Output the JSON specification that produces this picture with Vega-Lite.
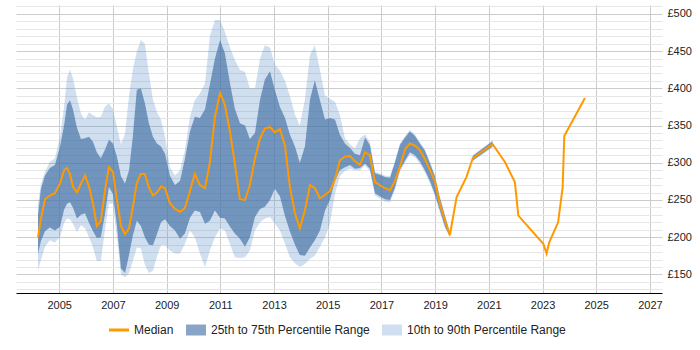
{
  "$schema": "https://vega.github.io/schema/vega-lite/v6.json",
  "width": 646,
  "height": 288,
  "autosize": {"type": "none"},
  "padding": {"left": 16, "top": 5, "right": 38, "bottom": 57},
  "background": "white",
  "config": {
    "view": {"stroke": null},
    "font": "Liberation Sans"
  },
  "datasets": {
    "bands": [
      {"year": 2004.21, "p10": 155, "p25": 178, "p75": 230, "p90": 245, "seg": 1},
      {"year": 2004.32, "p10": 170, "p25": 195, "p75": 265, "p90": 272, "seg": 1},
      {"year": 2004.47, "p10": 187, "p25": 208, "p75": 283, "p90": 288, "seg": 1},
      {"year": 2004.65, "p10": 196, "p25": 213, "p75": 293, "p90": 301, "seg": 1},
      {"year": 2004.84, "p10": 193, "p25": 209, "p75": 297, "p90": 306, "seg": 1},
      {"year": 2005.03, "p10": 200, "p25": 214, "p75": 322, "p90": 335, "seg": 1},
      {"year": 2005.18, "p10": 219, "p25": 237, "p75": 350, "p90": 375, "seg": 1},
      {"year": 2005.29, "p10": 225, "p25": 245, "p75": 378, "p90": 415, "seg": 1},
      {"year": 2005.40, "p10": 224, "p25": 247, "p75": 384, "p90": 425, "seg": 1},
      {"year": 2005.51, "p10": 218, "p25": 240, "p75": 372, "p90": 414, "seg": 1},
      {"year": 2005.66, "p10": 207, "p25": 225, "p75": 347, "p90": 388, "seg": 1},
      {"year": 2005.81, "p10": 216, "p25": 230, "p75": 332, "p90": 366, "seg": 1},
      {"year": 2005.96, "p10": 212, "p25": 232, "p75": 333, "p90": 358, "seg": 1},
      {"year": 2006.11, "p10": 200, "p25": 219, "p75": 335, "p90": 368, "seg": 1},
      {"year": 2006.26, "p10": 186, "p25": 208, "p75": 328, "p90": 364, "seg": 1},
      {"year": 2006.40, "p10": 168, "p25": 199, "p75": 314, "p90": 361, "seg": 1},
      {"year": 2006.55, "p10": 168, "p25": 200, "p75": 306, "p90": 362, "seg": 1},
      {"year": 2006.70, "p10": 209, "p25": 230, "p75": 317, "p90": 375, "seg": 1},
      {"year": 2006.85, "p10": 245, "p25": 267, "p75": 331, "p90": 380, "seg": 1},
      {"year": 2007.00, "p10": 245, "p25": 258, "p75": 326, "p90": 372, "seg": 1},
      {"year": 2007.15, "p10": 200, "p25": 215, "p75": 308, "p90": 348, "seg": 1},
      {"year": 2007.30, "p10": 150, "p25": 158, "p75": 282, "p90": 325, "seg": 1},
      {"year": 2007.45, "p10": 146, "p25": 152, "p75": 272, "p90": 339, "seg": 1},
      {"year": 2007.60, "p10": 152, "p25": 176, "p75": 290, "p90": 390, "seg": 1},
      {"year": 2007.74, "p10": 168, "p25": 202, "p75": 335, "p90": 425, "seg": 1},
      {"year": 2007.89, "p10": 186, "p25": 222, "p75": 398, "p90": 450, "seg": 1},
      {"year": 2008.04, "p10": 185, "p25": 215, "p75": 400, "p90": 465, "seg": 1},
      {"year": 2008.19, "p10": 163, "p25": 200, "p75": 380, "p90": 460, "seg": 1},
      {"year": 2008.34, "p10": 152, "p25": 190, "p75": 353, "p90": 420, "seg": 1},
      {"year": 2008.49, "p10": 155, "p25": 189, "p75": 335, "p90": 385, "seg": 1},
      {"year": 2008.64, "p10": 174, "p25": 204, "p75": 326, "p90": 368, "seg": 1},
      {"year": 2008.79, "p10": 189, "p25": 220, "p75": 322, "p90": 358, "seg": 1},
      {"year": 2008.94, "p10": 189, "p25": 224, "p75": 312, "p90": 335, "seg": 1},
      {"year": 2009.12, "p10": 182, "p25": 215, "p75": 283, "p90": 294, "seg": 1},
      {"year": 2009.31, "p10": 178, "p25": 209, "p75": 270, "p90": 283, "seg": 1},
      {"year": 2009.50, "p10": 178, "p25": 198, "p75": 276, "p90": 290, "seg": 1},
      {"year": 2009.68, "p10": 191, "p25": 205, "p75": 305, "p90": 317, "seg": 1},
      {"year": 2009.87, "p10": 209, "p25": 226, "p75": 342, "p90": 362, "seg": 1},
      {"year": 2010.05, "p10": 200, "p25": 236, "p75": 362, "p90": 384, "seg": 1},
      {"year": 2010.24, "p10": 178, "p25": 234, "p75": 360, "p90": 393, "seg": 1},
      {"year": 2010.43, "p10": 160, "p25": 218, "p75": 372, "p90": 407, "seg": 1},
      {"year": 2010.61, "p10": 182, "p25": 222, "p75": 405, "p90": 470, "seg": 1},
      {"year": 2010.80, "p10": 200, "p25": 236, "p75": 440, "p90": 492, "seg": 1},
      {"year": 2010.99, "p10": 212, "p25": 226, "p75": 465, "p90": 492, "seg": 1},
      {"year": 2011.17, "p10": 209, "p25": 225, "p75": 447, "p90": 476, "seg": 1},
      {"year": 2011.36, "p10": 191, "p25": 214, "p75": 407, "p90": 455, "seg": 1},
      {"year": 2011.54, "p10": 173, "p25": 205, "p75": 373, "p90": 438, "seg": 1},
      {"year": 2011.73, "p10": 172, "p25": 198, "p75": 353, "p90": 425, "seg": 1},
      {"year": 2011.92, "p10": 173, "p25": 187, "p75": 350, "p90": 422, "seg": 1},
      {"year": 2012.10, "p10": 182, "p25": 200, "p75": 332, "p90": 400, "seg": 1},
      {"year": 2012.29, "p10": 209, "p25": 227, "p75": 340, "p90": 400, "seg": 1},
      {"year": 2012.48, "p10": 220, "p25": 238, "p75": 385, "p90": 440, "seg": 1},
      {"year": 2012.66, "p10": 225, "p25": 241, "p75": 412, "p90": 458, "seg": 1},
      {"year": 2012.85, "p10": 227, "p25": 250, "p75": 423, "p90": 455, "seg": 1},
      {"year": 2013.03, "p10": 218, "p25": 265, "p75": 398, "p90": 432, "seg": 1},
      {"year": 2013.22, "p10": 209, "p25": 255, "p75": 375, "p90": 424, "seg": 1},
      {"year": 2013.41, "p10": 191, "p25": 228, "p75": 360, "p90": 410, "seg": 1},
      {"year": 2013.59, "p10": 173, "p25": 208, "p75": 338, "p90": 390, "seg": 1},
      {"year": 2013.78, "p10": 165, "p25": 190, "p75": 322, "p90": 365, "seg": 1},
      {"year": 2013.96, "p10": 160, "p25": 176, "p75": 300, "p90": 350, "seg": 1},
      {"year": 2014.15, "p10": 164, "p25": 175, "p75": 322, "p90": 385, "seg": 1},
      {"year": 2014.34, "p10": 171, "p25": 186, "p75": 385, "p90": 445, "seg": 1},
      {"year": 2014.52, "p10": 175, "p25": 196, "p75": 411, "p90": 458, "seg": 1},
      {"year": 2014.71, "p10": 187, "p25": 209, "p75": 384, "p90": 425, "seg": 1},
      {"year": 2014.90, "p10": 200, "p25": 236, "p75": 358, "p90": 390, "seg": 1},
      {"year": 2015.08, "p10": 218, "p25": 250, "p75": 360, "p90": 386, "seg": 1},
      {"year": 2015.27, "p10": 258, "p25": 276, "p75": 358, "p90": 382, "seg": 1},
      {"year": 2015.45, "p10": 282, "p25": 290, "p75": 338, "p90": 365, "seg": 1},
      {"year": 2015.64, "p10": 289, "p25": 294, "p75": 326, "p90": 333, "seg": 1},
      {"year": 2015.83, "p10": 292, "p25": 297, "p75": 320, "p90": 325, "seg": 1},
      {"year": 2016.01, "p10": 290, "p25": 292, "p75": 312, "p90": 319, "seg": 1},
      {"year": 2016.20, "p10": 290, "p25": 293, "p75": 310, "p90": 333, "seg": 1},
      {"year": 2016.39, "p10": 296, "p25": 299, "p75": 334, "p90": 338, "seg": 1},
      {"year": 2016.57, "p10": 289, "p25": 292, "p75": 324, "p90": 328, "seg": 1},
      {"year": 2016.76, "p10": 256, "p25": 259, "p75": 286, "p90": 288, "seg": 1},
      {"year": 2016.94, "p10": 252, "p25": 255, "p75": 284, "p90": 286, "seg": 1},
      {"year": 2017.13, "p10": 248, "p25": 251, "p75": 281, "p90": 283, "seg": 1},
      {"year": 2017.32, "p10": 247, "p25": 250, "p75": 280, "p90": 282, "seg": 1},
      {"year": 2017.50, "p10": 263, "p25": 266, "p75": 300, "p90": 302, "seg": 1},
      {"year": 2017.69, "p10": 288, "p25": 291, "p75": 324, "p90": 326, "seg": 1},
      {"year": 2017.88, "p10": 300, "p25": 303, "p75": 334, "p90": 336, "seg": 1},
      {"year": 2018.06, "p10": 311, "p25": 314, "p75": 342, "p90": 344, "seg": 1},
      {"year": 2018.25, "p10": 307, "p25": 310, "p75": 336, "p90": 338, "seg": 1},
      {"year": 2018.43, "p10": 299, "p25": 302, "p75": 326, "p90": 328, "seg": 1},
      {"year": 2018.62, "p10": 287, "p25": 290, "p75": 316, "p90": 318, "seg": 1},
      {"year": 2018.81, "p10": 272, "p25": 275, "p75": 299, "p90": 301, "seg": 1},
      {"year": 2018.99, "p10": 255, "p25": 258, "p75": 282, "p90": 284, "seg": 1},
      {"year": 2019.18, "p10": 233, "p25": 236, "p75": 252, "p90": 255, "seg": 1},
      {"year": 2019.37, "p10": 212, "p25": 214, "p75": 228, "p90": 230, "seg": 1},
      {"year": 2019.55, "p10": 200, "p25": 201, "p75": 206, "p90": 207, "seg": 1},
      {"year": 2020.40, "p10": 302, "p25": 303, "p75": 309, "p90": 310, "seg": 2},
      {"year": 2021.14, "p10": 321, "p25": 322, "p75": 329, "p90": 330, "seg": 2}
    ],
    "median": [
      {"year": 2004.21, "median": 200},
      {"year": 2004.32, "median": 225},
      {"year": 2004.47, "median": 251},
      {"year": 2004.65, "median": 256},
      {"year": 2004.84, "median": 259},
      {"year": 2005.03, "median": 272},
      {"year": 2005.18, "median": 290},
      {"year": 2005.29, "median": 293},
      {"year": 2005.40, "median": 285},
      {"year": 2005.51, "median": 268},
      {"year": 2005.66, "median": 260},
      {"year": 2005.81, "median": 272},
      {"year": 2005.96, "median": 283},
      {"year": 2006.11, "median": 268},
      {"year": 2006.26, "median": 245},
      {"year": 2006.40, "median": 215},
      {"year": 2006.55, "median": 222},
      {"year": 2006.70, "median": 262},
      {"year": 2006.85, "median": 294},
      {"year": 2007.00, "median": 288},
      {"year": 2007.15, "median": 250},
      {"year": 2007.30, "median": 215},
      {"year": 2007.45, "median": 204},
      {"year": 2007.60, "median": 212},
      {"year": 2007.74, "median": 240},
      {"year": 2007.89, "median": 273},
      {"year": 2008.04, "median": 285},
      {"year": 2008.19, "median": 285},
      {"year": 2008.34, "median": 267},
      {"year": 2008.49, "median": 256},
      {"year": 2008.64, "median": 260},
      {"year": 2008.79, "median": 268},
      {"year": 2008.94, "median": 266},
      {"year": 2009.12, "median": 246},
      {"year": 2009.31, "median": 238},
      {"year": 2009.50, "median": 234},
      {"year": 2009.68, "median": 239},
      {"year": 2009.87, "median": 262},
      {"year": 2010.05, "median": 285},
      {"year": 2010.24, "median": 270},
      {"year": 2010.43, "median": 266},
      {"year": 2010.61, "median": 300},
      {"year": 2010.80, "median": 362},
      {"year": 2010.99, "median": 394},
      {"year": 2011.17, "median": 378},
      {"year": 2011.36, "median": 342},
      {"year": 2011.54, "median": 299},
      {"year": 2011.73, "median": 251},
      {"year": 2011.92, "median": 250},
      {"year": 2012.10, "median": 270},
      {"year": 2012.29, "median": 306},
      {"year": 2012.48, "median": 333},
      {"year": 2012.66, "median": 346},
      {"year": 2012.85, "median": 348},
      {"year": 2013.03, "median": 341},
      {"year": 2013.22, "median": 345},
      {"year": 2013.41, "median": 323},
      {"year": 2013.59, "median": 268},
      {"year": 2013.78, "median": 232},
      {"year": 2013.96, "median": 212},
      {"year": 2014.15, "median": 236},
      {"year": 2014.34, "median": 270},
      {"year": 2014.52, "median": 266},
      {"year": 2014.71, "median": 252},
      {"year": 2014.90, "median": 257},
      {"year": 2015.08, "median": 262},
      {"year": 2015.27, "median": 278},
      {"year": 2015.45, "median": 303},
      {"year": 2015.64, "median": 308},
      {"year": 2015.83, "median": 309},
      {"year": 2016.01, "median": 302},
      {"year": 2016.20, "median": 297},
      {"year": 2016.39, "median": 314},
      {"year": 2016.57, "median": 310},
      {"year": 2016.76, "median": 274},
      {"year": 2016.94, "median": 270},
      {"year": 2017.13, "median": 266},
      {"year": 2017.32, "median": 263},
      {"year": 2017.50, "median": 275},
      {"year": 2017.69, "median": 295},
      {"year": 2017.88, "median": 318},
      {"year": 2018.06, "median": 326},
      {"year": 2018.25, "median": 323},
      {"year": 2018.43, "median": 317},
      {"year": 2018.62, "median": 305},
      {"year": 2018.81, "median": 290},
      {"year": 2018.99, "median": 275},
      {"year": 2019.18, "median": 244},
      {"year": 2019.37, "median": 222},
      {"year": 2019.55, "median": 203},
      {"year": 2019.80, "median": 254},
      {"year": 2020.17, "median": 281},
      {"year": 2020.40, "median": 306},
      {"year": 2021.14, "median": 325},
      {"year": 2021.60, "median": 301},
      {"year": 2021.97, "median": 274},
      {"year": 2022.10, "median": 229},
      {"year": 2023.03, "median": 191},
      {"year": 2023.15, "median": 178},
      {"year": 2023.25, "median": 193},
      {"year": 2023.58, "median": 220},
      {"year": 2023.75, "median": 267},
      {"year": 2023.81, "median": 336},
      {"year": 2024.58, "median": 387}
    ]
  },
  "encoding": {
    "x": {
      "field": "year",
      "type": "quantitative",
      "scale": {"domain": [2003.39, 2027.45], "nice": false, "zero": false},
      "axis": {
        "title": null,
        "values": [2005, 2007, 2009, 2011, 2013, 2015, 2017, 2019, 2021, 2023, 2025, 2027],
        "format": "d",
        "grid": true,
        "gridColor": "#cccccc",
        "ticks": false,
        "domainColor": "#000000",
        "domainWidth": 1,
        "labelFontSize": 11,
        "labelColor": "#222222",
        "labelPadding": 6,
        "labelFlush": false
      }
    },
    "color": {
      "datum": "Median",
      "type": "nominal",
      "scale": {
        "domain": ["Median", "25th to 75th Percentile Range", "10th to 90th Percentile Range"],
        "range": ["#FF9900", "#4572A7", "#5F94CD"]
      },
      "legend": {
        "orient": "none",
        "legendX": 97,
        "legendY": 319,
        "direction": "horizontal",
        "title": null,
        "padding": 0,
        "symbolSize": 400,
        "labelFontSize": 12,
        "labelColor": "#222222",
        "labelOffset": 9,
        "columnPadding": 12,
        "encode": {
          "symbols": {
            "update": {
              "shape": {"signal": "datum.value === 'Median' ? 'M-1,0H1' : 'M-1,-0.55H1V0.55H-1Z'"},
              "size": {"value": 400},
              "fill": {"signal": "datum.value === 'Median' ? 'transparent' : (datum.value === '10th to 90th Percentile Range' ? '#5F94CD' : '#4572A7')"},
              "fillOpacity": {"signal": "datum.value === 'Median' ? 0 : (datum.value === '10th to 90th Percentile Range' ? 0.3 : 0.64)"},
              "stroke": {"signal": "datum.value === 'Median' ? '#FF9900' : 'transparent'"},
              "strokeWidth": {"signal": "datum.value === 'Median' ? 3 : 0"},
              "opacity": {"value": 1}
            }
          }
        }
      }
    }
  },
  "layer": [
    {
      "data": {"name": "bands"},
      "mark": {"type": "area", "fillOpacity": 0.3, "strokeWidth": 0},
      "encoding": {
        "y": {
          "field": "p10",
          "type": "quantitative",
          "title": null,
          "scale": {"domain": [125, 512], "nice": false, "zero": false},
          "axis": {
            "orient": "right",
            "values": [130, 140, 150, 160, 170, 180, 190, 200, 210, 220, 230, 240, 250, 260, 270, 280, 290, 300, 310, 320, 330, 340, 350, 360, 370, 380, 390, 400, 410, 420, 430, 440, 450, 460, 470, 480, 490, 500, 510],
            "tickCount": 100,
            "labelExpr": "datum.value % 50 === 0 && datum.value >= 150 && datum.value <= 500 ? '£' + datum.value : ''",
            "grid": true,
            "gridColor": {"condition": {"test": "datum.value % 50 === 0", "value": "#cccccc"}, "value": "#e6e6e6"},
            "ticks": false,
            "domain": false,
            "labelPadding": 5,
            "labelFontSize": 11,
            "labelColor": "#222222",
            "labelOverlap": false
          }
        },
        "y2": {"field": "p90"},
        "detail": {"field": "seg", "type": "nominal"},
        "color": {"datum": "10th to 90th Percentile Range", "type": "nominal"}
      }
    },
    {
      "data": {"name": "bands"},
      "mark": {"type": "area", "fillOpacity": 0.68, "strokeWidth": 0},
      "encoding": {
        "y": {"field": "p25", "type": "quantitative", "title": null},
        "y2": {"field": "p75"},
        "detail": {"field": "seg", "type": "nominal"},
        "color": {"datum": "25th to 75th Percentile Range", "type": "nominal"}
      }
    },
    {
      "data": {"name": "median"},
      "mark": {"type": "line", "strokeWidth": 2},
      "encoding": {
        "y": {"field": "median", "type": "quantitative", "title": null},
        "color": {"datum": "Median", "type": "nominal"}
      }
    }
  ]
}
